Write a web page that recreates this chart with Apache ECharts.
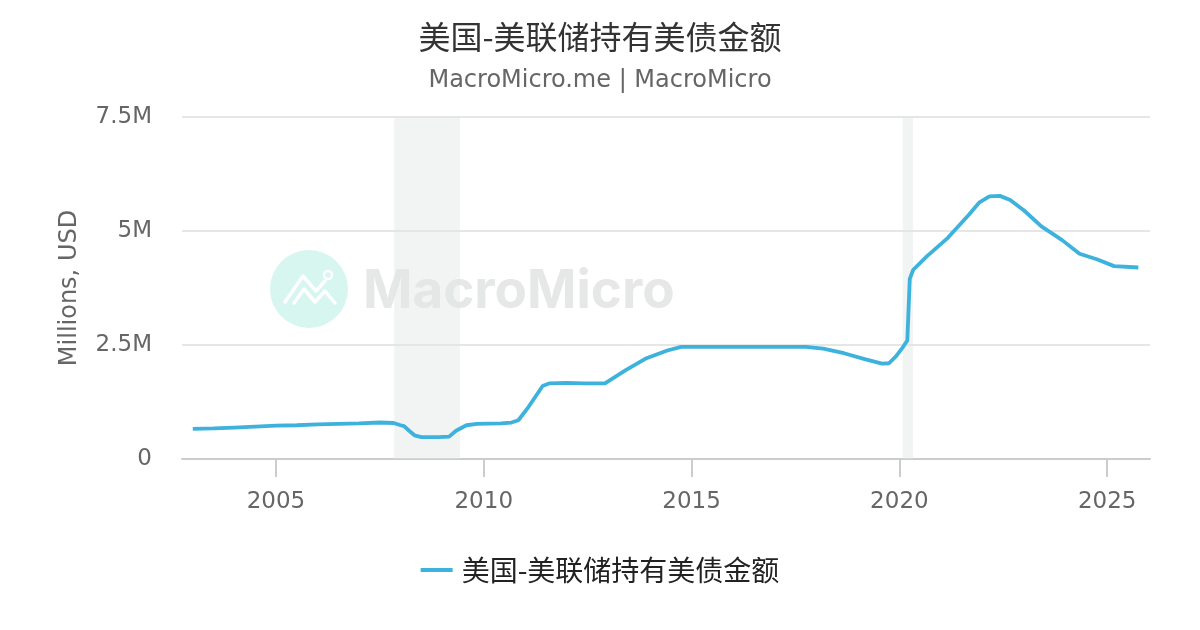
<!DOCTYPE html>
<html>
<head>
<meta charset="utf-8">
<script src="https://cdn.jsdelivr.net/npm/echarts@6/dist/echarts.min.js"></script>
<style>html,body{margin:0;padding:0;background:#fff}#c{width:1200px;height:630px}</style>
</head>
<body>
<div id="c"></div>
<script>
const seriesName = '美国-美联储持有美债金额';
const dates = ['2003-01-01','2003-07-01','2004-01-01','2004-07-01','2005-01-01','2005-07-01','2006-01-01','2006-07-01','2007-01-01','2007-07-01','2007-11-01','2008-01-01','2008-02-01','2008-03-15','2008-05-01','2008-07-01','2008-12-01','2009-03-01','2009-05-01','2009-08-01','2009-11-01','2010-06-01','2010-09-01','2010-11-01','2011-02-01','2011-06-01','2011-08-01','2012-01-01','2012-06-01','2012-12-01','2013-06-01','2013-12-01','2014-06-01','2014-10-01','2015-06-01','2016-06-01','2017-06-01','2017-10-01','2018-03-01','2018-09-01','2019-03-01','2019-08-01','2019-10-01','2019-12-01','2020-02-01','2020-03-10','2020-04-01','2020-05-01','2020-09-01','2021-03-01','2021-09-01','2021-12-01','2022-03-01','2022-06-01','2022-09-01','2023-01-01','2023-06-01','2023-12-01','2024-05-01','2024-10-01','2025-03-01','2025-10-01'];
const values = [0.66,0.67,0.69,0.71,0.73,0.74,0.76,0.77,0.78,0.80,0.79,0.74,0.72,0.62,0.52,0.48,0.48,0.49,0.62,0.74,0.77,0.78,0.80,0.85,1.15,1.60,1.66,1.67,1.66,1.66,1.95,2.21,2.38,2.46,2.46,2.46,2.46,2.46,2.42,2.32,2.19,2.09,2.10,2.25,2.45,2.60,3.95,4.15,4.45,4.85,5.35,5.62,5.76,5.77,5.68,5.45,5.10,4.80,4.50,4.38,4.23,4.20];
const recessions = [['2007-11-05','2009-06-05'],['2020-02-01','2020-04-30']];
const xTickYears = [2005,2010,2015,2020,2025];
const yTicks = [0,2.5,5,7.5];

function yearFrac(s){
  const p = s.split('-').map(Number);
  return p[0] + (p[1]-1)/12 + (p[2]-1)/365;
}

const chart = echarts.init(document.getElementById('c'), null, {renderer:'canvas'});
chart.setOption({
  animation:false,
  backgroundColor:'#fff',
  title:{
    text:seriesName,
    subtext:'MacroMicro.me | MacroMicro',
    left:'center', top:16, itemGap:16,
    textStyle:{fontFamily:'Noto Sans CJK SC', fontSize:32, fontWeight:'normal', color:'#333'},
    subtextStyle:{fontFamily:'DejaVu Sans', fontSize:24, color:'#666'}
  },
  graphic:[
    {type:'circle', shape:{cx:309, cy:289, r:39}, style:{fill:'#d6f6ef'}, z:0, silent:true},
    {type:'polyline', shape:{points:[[285,302],[303,276],[316,291],[325,281]]}, style:{stroke:'#fff', lineWidth:3.5, fill:null, lineCap:'round', lineJoin:'round'}, z:1, silent:true},
    {type:'circle', shape:{cx:328, cy:275, r:4}, style:{stroke:'#fff', lineWidth:2.5, fill:null}, z:1, silent:true},
    {type:'polyline', shape:{points:[[294,303],[304,289],[315,302],[325,291],[335,303]]}, style:{stroke:'#fff', lineWidth:3.5, fill:null, lineCap:'round', lineJoin:'round'}, z:1, silent:true},
    {type:'text', x:363, y:292, style:{text:'MacroMicro', font:'bold 53px Inter, "Noto Sans", sans-serif', fill:'#e6e7e7', textVerticalAlign:'middle'}, z:0, silent:true}
  ],
  legend:{
    bottom:41, left:'center',
    icon:'rect', itemWidth:32, itemHeight:4, itemGap:10,
    textStyle:{fontFamily:'Noto Sans CJK SC', fontSize:28, color:'#222', padding:[0,0,0,4]},
    data:[seriesName]
  },
  grid:{left:182, right:50, top:117, bottom:171},
  xAxis:{
    type:'value',
    min:2002.74, max:2026.03,
    axisLine:{lineStyle:{color:'#ccc', width:2}},
    axisTick:{show:true, length:18, lineStyle:{color:'#ccc', width:2}, customValues:xTickYears},
    axisLabel:{customValues:xTickYears, formatter:v => String(Math.round(v)), fontFamily:'DejaVu Sans', fontSize:23, color:'#666', margin:32},
    splitLine:{show:false}
  },
  yAxis:{
    type:'value', min:0, max:7.5, interval:2.5,
    name:'Millions, USD', nameLocation:'middle', nameGap:100,
    nameTextStyle:{fontFamily:'DejaVu Sans', fontSize:24, color:'#666'},
    axisLine:{show:false}, axisTick:{show:false},
    axisLabel:{fontFamily:'DejaVu Sans', fontSize:23, color:'#666', margin:30, formatter:v => v===0 ? '0' : v+'M'},
    splitLine:{lineStyle:{color:'#e6e6e6', width:2}}
  },
  series:[{
    name:seriesName, type:'line', showSymbol:false, symbol:'none',
    data:dates.map((d,i)=>[yearFrac(d), values[i]]),
    lineStyle:{color:'#3db2dc', width:3.8},
    itemStyle:{color:'#3db2dc'},
    z:3,
    markArea:{
      silent:true,
      itemStyle:{color:'rgba(225,231,229,0.45)'},
      data:recessions.map(r=>[{xAxis:yearFrac(r[0])},{xAxis:yearFrac(r[1])}])
    }
  }]
});
</script>
</body>
</html>
